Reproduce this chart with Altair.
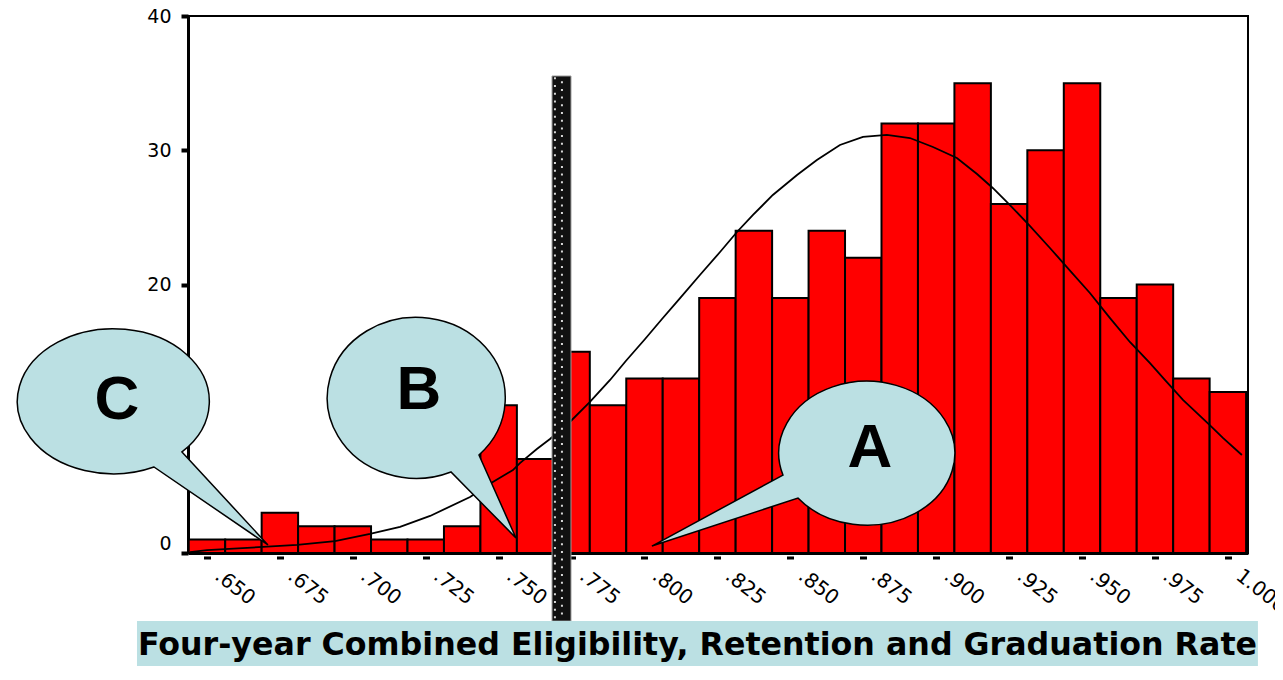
import altair as alt
import pandas as pd

# ---------------- data ----------------
BIN_START = 0.64375
BIN_WIDTH = 0.0125
COUNTS = [1, 1, 3, 2, 2, 1, 1, 2, 11, 7, 15, 11, 13, 13, 19, 24, 19, 24, 22,
          32, 32, 35, 26, 30, 35, 19, 20, 13, 12]

CURVE_X = [0.6442, 0.6500, 0.6692, 0.6809, 0.6939, 0.7059, 0.7162, 0.7265,
           0.7402, 0.7480, 0.7549, 0.7573, 0.7631, 0.7676, 0.7744, 0.7813,
           0.7882, 0.7936, 0.8002, 0.8060, 0.8122, 0.8190, 0.8259, 0.8317,
           0.8372, 0.8440, 0.8523, 0.8591, 0.8670, 0.8749, 0.8831, 0.8910,
           0.8989, 0.9071, 0.9140, 0.9194, 0.9253, 0.9321, 0.9390, 0.9448,
           0.9527, 0.9596, 0.9664, 0.9733, 0.9784, 0.9846, 0.9938, 0.9983,
           1.0048]
CURVE_Y = [0.07, 0.22, 0.45, 0.60, 0.89, 1.42, 1.94, 2.76,
           4.17, 5.29, 6.18, 6.70, 7.75, 8.49, 9.76, 11.25,
           12.89, 14.30, 15.94, 17.43, 18.99, 20.71, 22.42, 23.91,
           25.18, 26.67, 28.16, 29.27, 30.39, 30.99, 31.14, 30.91,
           30.24, 29.42, 28.23, 27.19, 25.92, 24.36, 22.72, 21.30,
           19.37, 17.50, 15.72, 14.15, 12.89, 11.40, 9.53, 8.57,
           7.30]

X_TICKS = [0.650, 0.675, 0.700, 0.725, 0.750, 0.775, 0.800, 0.825, 0.850,
           0.875, 0.900, 0.925, 0.950, 0.975, 1.000]
Y_TICKS = [0, 10, 20, 30, 40]
X_DOMAIN = [0.6435, 1.0069]
Y_DOMAIN = [0, 40]

# cut-off marker bar
CUTOFF_X = [0.7683, 0.7748]
CUTOFF_Y = [35.53, -5.07]
DOT_X = [0.7693, 0.7717]

# call-outs
CALLOUT_LABELS = ["C", "B", "A"]
CALLOUT_X = [0.61538, 0.72234, 0.87592]
CALLOUT_Y = [10.99, 11.66, 7.37]
LETTER_X = [0.61915, 0.72268, 0.87729]
LETTER_Y = [11.40, 12.14, 7.82]
BUBBLE_PATHS = [
    "M76,46.5L162,139.5L48,61.5A96,72.5,0,1,1,76,46.5Z",
    "M61,58.5L98,141.5L33,75.5A89,80.5,0,1,1,61,58.5Z",
    "M-83,21L-214,92L-68,44A88,72,0,1,0,-83,21Z",
]

TITLE = "Four-year Combined Eligibility, Retention and Graduation Rate"
TITLE_BOX_X = [0.62601, 1.0103]
TITLE_BOX_Y = [-5.07, -8.7]
TITLE_POS = [0.81816, -7.60]

LIGHT_BLUE = "#bbe0e3"

# ---------------- tables ----------------
bars = pd.DataFrame({
    "x": [BIN_START + i * BIN_WIDTH for i in range(len(COUNTS))],
    "count": COUNTS,
})
bars["x2"] = bars["x"] + BIN_WIDTH
bars["base"] = 0

curve = pd.DataFrame({"x": CURVE_X, "y": CURVE_Y})

xs = alt.Scale(domain=X_DOMAIN, nice=False, zero=False)
ys = alt.Scale(domain=Y_DOMAIN, nice=False, zero=False)

xax = alt.Axis(
    values=X_TICKS,
    labelExpr="datum.value < 0.9999 ? substring(format(datum.value, '.3f'), 1) : format(datum.value, '.3f')",
    labelAngle=38, labelAlign="left", labelBaseline="middle",
    labelOffset=10, labelPadding=14,
    labelFont="DejaVu Sans", labelFontSize=20, labelColor="black",
    labelOverlap=False, labelFlush=False, labelBound=False,
    tickSize=6, tickWidth=7, tickColor="black", tickDash=[0, 3, 3],
    domainColor="black", domainWidth=3, grid=False, title=None,
)
yax = alt.Axis(
    values=Y_TICKS,
    labelFont="DejaVu Sans", labelFontSize=19, labelColor="black",
    labelPadding=10,
    labelBaseline={"condition": {"test": "datum.value == 0", "value": "bottom"}, "value": "middle"},
    tickSize=7, tickWidth=4, tickColor="black",
    domainColor="black", domainWidth=3, grid=False, title=None,
)

bar_layer = alt.Chart(bars).mark_rect(
    fill="#ff0000", stroke="black", strokeWidth=2
).encode(
    x=alt.X("x:Q", scale=xs, axis=xax),
    x2="x2:Q",
    y=alt.Y("count:Q", scale=ys, axis=yax),
    y2="base:Q",
)

curve_layer = alt.Chart(curve).mark_line(
    color="black", strokeWidth=1.8
).encode(
    x=alt.X("x:Q", scale=xs, axis=xax),
    y=alt.Y("y:Q", scale=ys, axis=yax),
)

cut = pd.DataFrame({"x": [CUTOFF_X[0]], "x2": [CUTOFF_X[1]],
                    "y": [CUTOFF_Y[0]], "y2": [CUTOFF_Y[1]]})
cut_layer = alt.Chart(cut).mark_rect(
    fill="#111111", stroke="#9a9a9a", strokeWidth=1
).encode(
    x=alt.X("x:Q", scale=xs, axis=xax), x2="x2:Q",
    y=alt.Y("y:Q", scale=ys, axis=yax), y2="y2:Q",
)

dot_layers = []
for i, dx in enumerate(DOT_X):
    d = pd.DataFrame({"x": [dx], "y": [CUTOFF_Y[0] - 0.1], "y2": [CUTOFF_Y[1] + 0.1]})
    dot_layers.append(
        alt.Chart(d).mark_rule(
            stroke="#d8d8d8", strokeWidth=2, strokeDash=[2, 5.7],
            strokeDashOffset=3.85 * i
        ).encode(
            x=alt.X("x:Q", scale=xs, axis=xax),
            y=alt.Y("y:Q", scale=ys, axis=yax), y2="y2:Q",
        )
    )

bubble_layers = []
for lab, cx, cy, path in zip(CALLOUT_LABELS, CALLOUT_X, CALLOUT_Y, BUBBLE_PATHS):
    d = pd.DataFrame({"x": [cx], "y": [cy], "label": [lab]})
    bubble_layers.append(
        alt.Chart(d).mark_point(
            shape=path, size=4, filled=True, fill=LIGHT_BLUE,
            stroke="black", strokeWidth=1.5, opacity=1
        ).encode(
            x=alt.X("x:Q", scale=xs, axis=xax),
            y=alt.Y("y:Q", scale=ys, axis=yax),
        )
    )

letters = pd.DataFrame({"x": LETTER_X, "y": LETTER_Y, "label": CALLOUT_LABELS})
letter_layer = alt.Chart(letters).mark_text(
    font="Liberation Sans", fontWeight="bold", fontSize=62,
    align="center", baseline="middle", color="black"
).encode(
    x=alt.X("x:Q", scale=xs, axis=xax),
    y=alt.Y("y:Q", scale=ys, axis=yax),
    text="label:N",
)

tbox = pd.DataFrame({"x": [TITLE_BOX_X[0]], "x2": [TITLE_BOX_X[1]],
                     "y": [TITLE_BOX_Y[0]], "y2": [TITLE_BOX_Y[1]]})
tbox_layer = alt.Chart(tbox).mark_rect(fill=LIGHT_BLUE).encode(
    x=alt.X("x:Q", scale=xs, axis=xax), x2="x2:Q",
    y=alt.Y("y:Q", scale=ys, axis=yax), y2="y2:Q",
)

ttext = pd.DataFrame({"x": [TITLE_POS[0]], "y": [TITLE_POS[1]], "t": [TITLE]})
ttext_layer = alt.Chart(ttext).mark_text(
    font="DejaVu Sans", fontWeight="bold", fontSize=31.7,
    align="center", baseline="alphabetic", color="black"
).encode(
    x=alt.X("x:Q", scale=xs, axis=xax),
    y=alt.Y("y:Q", scale=ys, axis=yax),
    text="t:N",
)

chart = alt.layer(
    bar_layer, curve_layer, cut_layer, *dot_layers, *bubble_layers,
    letter_layer, tbox_layer, ttext_layer
).properties(
    width=1060, height=537,
    autosize=alt.AutoSizeParams(type="none"),
    padding={"left": 180, "top": 8, "right": 27, "bottom": 113},
).configure_view(
    stroke="black", strokeWidth=2
)

chart.save("out.html", embed_options={"renderer": "svg", "actions": False})
